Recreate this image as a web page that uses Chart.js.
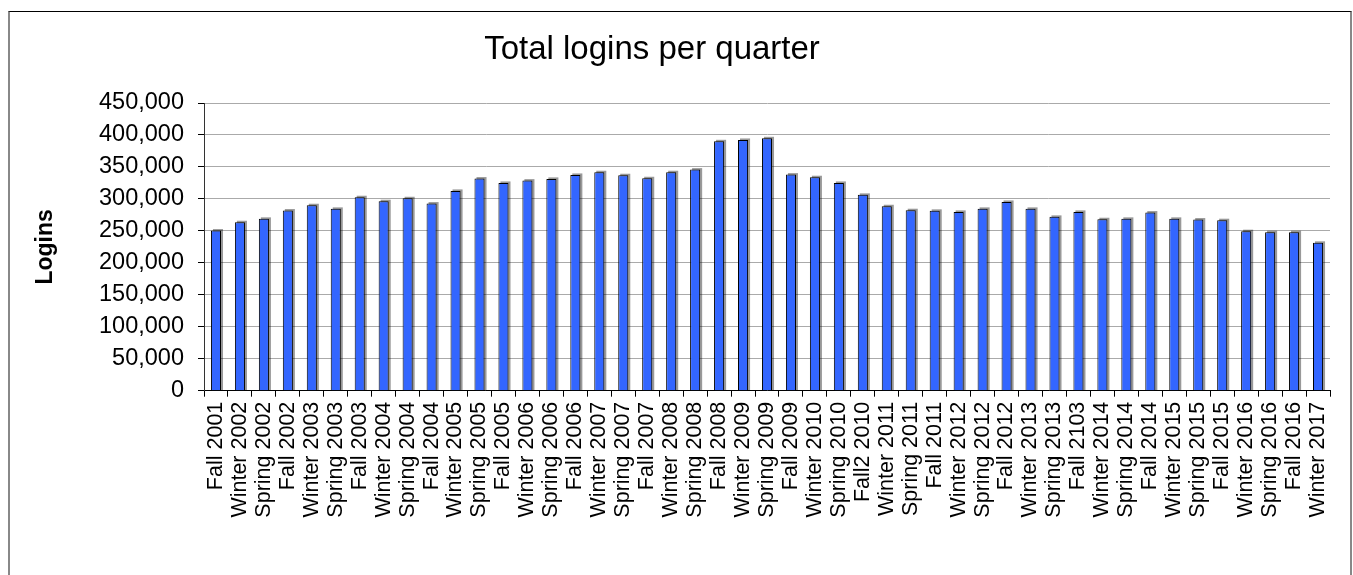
<!DOCTYPE html>
<html>
<head>
<meta charset="utf-8">
<script src="https://cdn.jsdelivr.net/npm/chart.js@4"></script>
<style>
  body { margin: 0; background: #fff; overflow: hidden; }
  #frame { position: absolute; left: 8px; top: 11px; width: 1340px; height: 600px;
           border-top: 1px solid #000; border-left: 2px solid #888; border-right: 2px solid #888; }
  #wrap { position: absolute; left: -26px; top: 0; width: 1379px; height: 575px; }
</style>
</head>
<body>
<div id="frame"></div>
<div id="wrap"><canvas id="graf"></canvas></div>
<script>
// quarters on the x axis
const quarters = [
  "Fall 2001", "Winter 2002", "Spring 2002", "Fall 2002", "Winter 2003", "Spring 2003",
  "Fall 2003", "Winter 2004", "Spring 2004", "Fall 2004", "Winter 2005", "Spring 2005",
  "Fall 2005", "Winter 2006", "Spring 2006", "Fall 2006", "Winter 2007", "Spring 2007",
  "Fall 2007", "Winter 2008", "Spring 2008", "Fall 2008", "Winter 2009", "Spring 2009",
  "Fall 2009", "Winter 2010", "Spring 2010", "Fall2 2010", "Winter 2011", "Spring 2011",
  "Fall 2011", "Winter 2012", "Spring 2012", "Fall 2012", "Winter 2013", "Spring 2013",
  "Fall 2103", "Winter 2014", "Spring 2014", "Fall 2014", "Winter 2015", "Spring 2015",
  "Fall 2015", "Winter 2016", "Spring 2016", "Fall 2016", "Winter 2017"
];

// total logins per quarter
const logins = [
  250500, 263500, 268800, 281800, 290100, 284400,
  302600, 296400, 301000, 292700, 312500, 331800,
  325000, 328600, 331300, 337500, 341700, 337000,
  332300, 341700, 345800, 390100, 392200, 394800,
  338000, 333900, 325000, 306300, 288500, 282300,
  281300, 279700, 284400, 295300, 284400, 271900,
  279700, 268200, 268800, 278600, 268800, 267700,
  266700, 249500, 247900, 247900, 231300
];

// y axis ticks
const yMin = 0;
const yMax = 450000;
const yStep = 50000;

const font = "'Liberation Sans', Arial, sans-serif";

// grey shadow behind every bar, placed from the bar elements themselves
const barShadow = {
  id: 'barShadow',
  beforeDatasetsDraw(chart) {
    const ctx = chart.ctx;
    ctx.save();
    ctx.fillStyle = 'rgba(0,0,0,0.4)';
    chart.getDatasetMeta(0).data.forEach(bar => {
      const w = bar.width;
      ctx.fillRect(bar.x - w / 2 + 2, bar.y - 1.5, w, bar.base - bar.y + 1.5);
    });
    ctx.restore();
  }
};

new Chart("graf", {
  type: "bar",
  data: {
    labels: quarters,
    datasets: [{
      data: logins,
      backgroundColor: "#3366ff",
      borderColor: "#000",
      borderWidth: 1,
      categoryPercentage: 1,
      barPercentage: 0.42
    }]
  },
  plugins: [barShadow],
  options: {
    responsive: true,
    maintainAspectRatio: false,
    animation: false,
    layout: { padding: { top: 0, right: 23, bottom: 0, left: 0 } },
    plugins: {
      legend: { display: false },
      tooltip: { enabled: false },
      title: {
        display: true,
        text: "Total logins per quarter",
        color: "#000",
        font: { family: font, size: 33, weight: "normal" },
        padding: { top: 30, bottom: 33.4 }
      }
    },
    scales: {
      x: {
        grid: { offset: true, drawOnChartArea: false, drawTicks: true, tickLength: 6,
                tickColor: "#000", tickWidth: 1 },
        border: { display: true, color: "#000", width: 1 },
        ticks: { autoSkip: false, minRotation: 90, maxRotation: 90, padding: 5,
                 color: "#000", font: { family: font, size: 21.5 } },
        afterFit(scale) { scale.height = 184.3; }
      },
      y: {
        min: yMin,
        max: yMax,
        grid: { color: "#aaa", borderDash: [1, 1], tickLength: 6, tickColor: "#000",
                tickBorderDash: [], tickWidth: 1 },
        border: { display: true, color: "#333", width: 1 },
        ticks: { stepSize: yStep, padding: 14, color: "#000",
                 font: { family: font, size: 23.5 },
                 callback: v => v.toLocaleString("en-US") },
        title: { display: true, text: "Logins", color: "#000",
                 font: { family: font, size: 23, weight: "bold" },
                 padding: { top: 58, bottom: 0 } },
        afterFit(scale) { scale.width = 230; }
      }
    }
  }
});
</script>
</body>
</html>
